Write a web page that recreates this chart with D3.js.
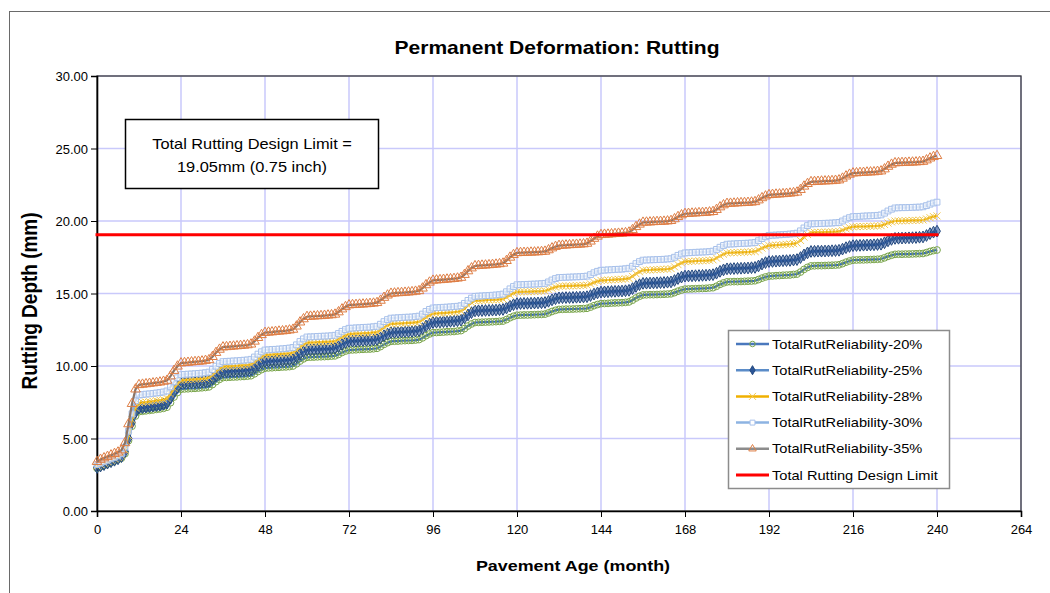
<!DOCTYPE html>
<html>
<head>
<meta charset="utf-8">
<script src="https://cdn.jsdelivr.net/npm/d3@7"></script>
<style>
  body { margin: 0; background: #fff; }
  svg { display: block; }
  text { font-family: "Liberation Sans", Arial, sans-serif; fill: #000; }
</style>
</head>
<body>
<svg id="chart" width="1050" height="593"></svg>
<script>
// ---- data: total rut depth (mm) by pavement age (month 0..240) ----
const months = d3.range(0, 241);

const rel20 = [
  2.95,3.05,3.15,3.25,3.35,3.45,3.55,3.65,3.95,4.85,5.85,6.55,
  6.85,6.88,6.91,6.94,6.97,7.01,7.04,7.08,7.16,7.47,7.86,8.17,
  8.40,8.42,8.43,8.45,8.46,8.48,8.50,8.52,8.56,8.72,8.92,9.08,
  9.20,9.21,9.23,9.24,9.25,9.27,9.28,9.30,9.33,9.46,9.62,9.75,
  9.85,9.87,9.88,9.90,9.91,9.93,9.94,9.96,10.00,10.15,10.34,10.49,
  10.60,10.61,10.62,10.63,10.64,10.65,10.66,10.68,10.70,10.80,10.93,11.03,
  11.10,11.11,11.12,11.14,11.15,11.16,11.17,11.19,11.22,11.34,11.49,11.61,
  11.70,11.71,11.72,11.74,11.75,11.76,11.77,11.79,11.82,11.94,12.09,12.21,
  12.30,12.31,12.33,12.34,12.36,12.37,12.38,12.41,12.44,12.58,12.76,12.90,
  13.00,13.01,13.02,13.03,13.04,13.05,13.06,13.08,13.10,13.20,13.33,13.43,
  13.50,13.51,13.52,13.52,13.53,13.54,13.55,13.56,13.58,13.66,13.76,13.84,
  13.90,13.91,13.92,13.92,13.93,13.94,13.95,13.96,13.98,14.06,14.16,14.24,
  14.30,14.31,14.32,14.34,14.35,14.36,14.37,14.39,14.42,14.54,14.69,14.81,
  14.90,14.91,14.92,14.92,14.93,14.94,14.95,14.96,14.98,15.06,15.16,15.24,
  15.30,15.31,15.32,15.33,15.34,15.35,15.36,15.38,15.40,15.50,15.63,15.73,
  15.80,15.81,15.82,15.82,15.83,15.84,15.85,15.86,15.88,15.96,16.06,16.14,
  16.20,16.21,16.23,16.24,16.26,16.27,16.28,16.31,16.34,16.48,16.66,16.80,
  16.90,16.91,16.92,16.92,16.93,16.94,16.95,16.96,16.98,17.06,17.16,17.24,
  17.30,17.31,17.32,17.32,17.33,17.34,17.35,17.36,17.38,17.46,17.56,17.64,
  17.70,17.71,17.71,17.72,17.72,17.73,17.74,17.75,17.76,17.82,17.90,17.96,
  18.00
];

const rel25 = [
  3.00,3.10,3.20,3.30,3.40,3.50,3.60,3.75,4.10,5.00,6.10,6.80,
  7.10,7.13,7.17,7.20,7.24,7.27,7.30,7.36,7.44,7.78,8.21,8.55,
  8.80,8.82,8.83,8.85,8.86,8.88,8.90,8.92,8.96,9.12,9.32,9.48,
  9.60,9.61,9.63,9.64,9.66,9.67,9.68,9.71,9.74,9.88,10.06,10.20,
  10.30,10.32,10.33,10.35,10.36,10.38,10.40,10.42,10.46,10.62,10.82,10.98,
  11.10,11.11,11.12,11.14,11.15,11.16,11.17,11.19,11.22,11.34,11.49,11.61,
  11.70,11.71,11.72,11.74,11.75,11.76,11.77,11.79,11.82,11.94,12.09,12.21,
  12.30,12.31,12.33,12.34,12.36,12.37,12.38,12.41,12.44,12.58,12.76,12.90,
  13.00,13.02,13.03,13.05,13.06,13.08,13.10,13.12,13.16,13.32,13.52,13.68,
  13.80,13.81,13.82,13.83,13.84,13.85,13.86,13.88,13.90,14.00,14.13,14.23,
  14.30,14.31,14.32,14.32,14.33,14.34,14.35,14.36,14.38,14.46,14.56,14.64,
  14.70,14.71,14.72,14.72,14.73,14.74,14.75,14.76,14.78,14.86,14.96,15.04,
  15.10,15.11,15.12,15.14,15.15,15.16,15.17,15.19,15.22,15.34,15.49,15.61,
  15.70,15.71,15.72,15.73,15.74,15.75,15.76,15.78,15.80,15.90,16.03,16.13,
  16.20,16.21,16.22,16.23,16.24,16.25,16.26,16.28,16.30,16.40,16.53,16.63,
  16.70,16.71,16.72,16.73,16.74,16.75,16.76,16.78,16.80,16.90,17.03,17.13,
  17.20,17.21,17.23,17.24,17.26,17.27,17.28,17.31,17.34,17.48,17.66,17.80,
  17.90,17.91,17.92,17.92,17.93,17.94,17.95,17.96,17.98,18.06,18.16,18.24,
  18.30,18.31,18.32,18.33,18.34,18.35,18.36,18.38,18.40,18.50,18.63,18.73,
  18.80,18.81,18.82,18.83,18.84,18.85,18.86,18.88,18.90,19.00,19.13,19.23,
  19.30
];

const rel28 = [
  3.10,3.20,3.30,3.40,3.50,3.60,3.70,3.85,4.20,5.20,6.30,7.10,
  7.45,7.48,7.51,7.54,7.57,7.61,7.64,7.68,7.76,8.07,8.46,8.77,
  9.00,9.02,9.04,9.06,9.08,9.10,9.11,9.14,9.19,9.38,9.62,9.81,
  9.95,9.97,9.98,10.00,10.01,10.03,10.05,10.07,10.11,10.27,10.47,10.63,
  10.75,10.77,10.78,10.80,10.82,10.84,10.85,10.88,10.92,11.09,11.30,11.47,
  11.60,11.61,11.62,11.64,11.65,11.66,11.67,11.69,11.72,11.84,11.99,12.11,
  12.20,12.21,12.23,12.24,12.26,12.27,12.28,12.31,12.34,12.48,12.66,12.80,
  12.90,12.91,12.93,12.94,12.96,12.97,12.98,13.01,13.04,13.18,13.36,13.50,
  13.60,13.62,13.64,13.65,13.67,13.69,13.71,13.74,13.78,13.96,14.19,14.37,
  14.50,14.51,14.52,14.54,14.55,14.56,14.57,14.59,14.62,14.74,14.89,15.01,
  15.10,15.11,15.12,15.12,15.13,15.14,15.15,15.16,15.18,15.26,15.36,15.44,
  15.50,15.51,15.52,15.52,15.53,15.54,15.55,15.56,15.58,15.66,15.76,15.84,
  15.90,15.91,15.93,15.94,15.96,15.97,15.98,16.01,16.04,16.18,16.36,16.50,
  16.60,16.61,16.62,16.64,16.65,16.66,16.67,16.69,16.72,16.84,16.99,17.11,
  17.20,17.21,17.22,17.24,17.25,17.26,17.27,17.29,17.32,17.44,17.59,17.71,
  17.80,17.81,17.82,17.83,17.84,17.85,17.86,17.88,17.90,18.00,18.13,18.23,
  18.30,18.32,18.34,18.35,18.37,18.39,18.41,18.44,18.48,18.66,18.89,19.07,
  19.20,19.21,19.22,19.22,19.23,19.24,19.25,19.26,19.28,19.36,19.46,19.54,
  19.60,19.61,19.62,19.62,19.63,19.64,19.65,19.66,19.68,19.76,19.86,19.94,
  20.00,20.01,20.01,20.02,20.03,20.04,20.04,20.05,20.07,20.14,20.23,20.30,
  20.35
];

const rel30 = [
  3.20,3.30,3.40,3.50,3.60,3.70,3.80,3.95,4.40,5.50,6.70,7.60,
  8.00,8.03,8.06,8.08,8.11,8.14,8.17,8.21,8.28,8.56,8.91,9.19,
  9.40,9.42,9.44,9.45,9.47,9.49,9.51,9.54,9.58,9.76,9.99,10.17,
  10.30,10.32,10.33,10.35,10.36,10.38,10.40,10.42,10.46,10.62,10.82,10.98,
  11.10,11.12,11.14,11.15,11.17,11.19,11.21,11.24,11.28,11.46,11.69,11.87,
  12.00,12.01,12.02,12.04,12.05,12.06,12.07,12.09,12.12,12.24,12.39,12.51,
  12.60,12.61,12.63,12.64,12.66,12.67,12.68,12.71,12.74,12.88,13.06,13.20,
  13.30,13.31,13.33,13.34,13.36,13.37,13.38,13.41,13.44,13.58,13.76,13.90,
  14.00,14.02,14.03,14.05,14.06,14.08,14.10,14.12,14.16,14.32,14.52,14.68,
  14.80,14.82,14.83,14.85,14.86,14.88,14.90,14.92,14.96,15.12,15.32,15.48,
  15.60,15.61,15.62,15.63,15.64,15.65,15.66,15.68,15.70,15.80,15.93,16.03,
  16.10,16.11,16.12,16.13,16.14,16.15,16.16,16.18,16.20,16.30,16.43,16.53,
  16.60,16.61,16.63,16.64,16.66,16.67,16.68,16.71,16.74,16.88,17.06,17.20,
  17.30,17.31,17.32,17.33,17.34,17.35,17.36,17.38,17.40,17.50,17.63,17.73,
  17.80,17.81,17.82,17.84,17.85,17.86,17.87,17.89,17.92,18.04,18.19,18.31,
  18.40,18.41,18.42,18.44,18.45,18.46,18.47,18.49,18.52,18.64,18.79,18.91,
  19.00,19.02,19.03,19.05,19.06,19.08,19.10,19.12,19.16,19.32,19.52,19.68,
  19.80,19.81,19.82,19.83,19.84,19.85,19.86,19.88,19.90,20.00,20.13,20.23,
  20.30,20.31,20.32,20.34,20.35,20.36,20.37,20.39,20.42,20.54,20.69,20.81,
  20.90,20.91,20.92,20.92,20.93,20.94,20.95,20.96,20.98,21.06,21.16,21.24,
  21.30
];

const rel35 = [
  3.40,3.55,3.65,3.75,3.85,3.95,4.05,4.20,4.70,6.00,7.40,8.40,
  8.70,8.73,8.76,8.79,8.82,8.85,8.88,8.93,9.00,9.30,9.68,9.98,
  10.20,10.22,10.24,10.27,10.29,10.31,10.33,10.37,10.42,10.64,10.92,11.14,
  11.30,11.32,11.34,11.36,11.38,11.40,11.42,11.45,11.50,11.70,11.95,12.15,
  12.30,12.32,12.34,12.37,12.39,12.41,12.43,12.47,12.52,12.74,13.02,13.24,
  13.40,13.42,13.43,13.45,13.46,13.48,13.50,13.52,13.56,13.72,13.92,14.08,
  14.20,14.22,14.23,14.25,14.26,14.28,14.30,14.32,14.36,14.52,14.72,14.88,
  15.00,15.02,15.04,15.05,15.07,15.09,15.11,15.14,15.18,15.36,15.59,15.77,
  15.90,15.92,15.94,15.96,15.98,16.00,16.02,16.05,16.10,16.30,16.55,16.75,
  16.90,16.92,16.94,16.95,16.97,16.99,17.01,17.04,17.08,17.26,17.49,17.67,
  17.80,17.81,17.82,17.83,17.84,17.85,17.86,17.88,17.90,18.00,18.13,18.23,
  18.30,18.32,18.33,18.35,18.36,18.38,18.39,18.41,18.45,18.60,18.79,18.94,
  19.05,19.07,19.08,19.10,19.12,19.14,19.15,19.18,19.22,19.39,19.60,19.77,
  19.90,19.91,19.92,19.94,19.95,19.96,19.97,19.99,20.02,20.14,20.29,20.41,
  20.50,20.51,20.53,20.54,20.56,20.57,20.58,20.61,20.64,20.78,20.96,21.10,
  21.20,21.21,21.22,21.24,21.25,21.26,21.27,21.29,21.32,21.44,21.59,21.71,
  21.80,21.82,21.84,21.85,21.87,21.89,21.91,21.94,21.98,22.16,22.39,22.57,
  22.70,22.71,22.72,22.74,22.75,22.76,22.77,22.79,22.82,22.94,23.09,23.21,
  23.30,23.31,23.33,23.34,23.36,23.37,23.38,23.41,23.44,23.58,23.76,23.90,
  24.00,24.01,24.02,24.03,24.04,24.05,24.06,24.08,24.10,24.20,24.33,24.43,
  24.50
];

const seriesNames = [
  "TotalRutReliability-20%",
  "TotalRutReliability-25%",
  "TotalRutReliability-28%",
  "TotalRutReliability-30%",
  "TotalRutReliability-35%"
];
const limitName = "Total Rutting Design Limit";
const designLimit = 19.05;        // mm (0.75 inch)
const limitMonths = [0, 240];     // extent of the design-limit line

const xTicks = [0, 24, 48, 72, 96, 120, 144, 168, 192, 216, 240, 264];
const yTicks = [0, 5, 10, 15, 20, 25, 30];

const titleText = "Permanent Deformation: Rutting";
const xTitle = "Pavement Age (month)";
const yTitle = "Rutting Depth (mm)";
const noteLines = ["Total Rutting Design Limit =", "19.05mm (0.75 inch)"];

// ---- appearance ----
const SX = 1.17;   // horizontal text stretch of the chart fonts
const styles = [
  { line: "#3b6cb3", mark: "circle",   mStroke: "#7aa54c", mFill: "none",    size: 36 },
  { line: "#4a7cc0", mark: "diamond",  mStroke: "#24497f", mFill: "#2c5597", size: 40 },
  { line: "#ebac00", mark: "x",        mStroke: "#f2c850", mFill: "none",    size: 0 },
  { line: "#8cb0e4", mark: "square",   mStroke: "#a7c0ea", mFill: "#ffffff", size: 34 },
  { line: "#8a7568", mark: "triangle", mStroke: "#de7e45", mFill: "none",    size: 40 }
];
const seriesValues = [rel20, rel25, rel28, rel30, rel35];

const svg = d3.select("#chart");
const W = 1050, H = 593;
const plot = { left: 97, right: 1021, top: 76, bottom: 511 };

const x = d3.scaleLinear().domain([0, 264]).range([plot.left, plot.right]);
const y = d3.scaleLinear().domain([0, 30]).range([plot.bottom, plot.top]);

// outer chart frame
svg.append("rect").attr("x", 9.5).attr("y", 11.5).attr("width", W + 20).attr("height", H + 20)
  .attr("fill", "#fff").attr("stroke", "#6a6a6a").attr("stroke-width", 1);

function stretchedText(g, px, py, str, size, weight, anchor, sx) {
  return g.append("text")
    .attr("transform", `translate(${px},${py}) scale(${sx || SX},1)`)
    .attr("font-size", size).attr("font-weight", weight || "normal")
    .attr("text-anchor", anchor || "start")
    .text(str);
}

// title
stretchedText(svg, 557, 54, titleText, 18, "bold", "middle");

// gridlines
const grid = svg.append("g");
grid.selectAll("line.gx").data(xTicks.slice(1)).join("line")
  .attr("x1", d => x(d)).attr("x2", d => x(d))
  .attr("y1", plot.top).attr("y2", plot.bottom)
  .attr("stroke", "#c9c9fb").attr("stroke-width", 1.5);
grid.selectAll("line.gy").data(yTicks.slice(1)).join("line")
  .attr("x1", plot.left).attr("x2", plot.right)
  .attr("y1", d => y(d)).attr("y2", d => y(d))
  .attr("stroke", "#c9c9fb").attr("stroke-width", 1.5);

// plot frame
svg.append("rect").attr("x", plot.left).attr("y", plot.top)
  .attr("width", plot.right - plot.left).attr("height", plot.bottom - plot.top)
  .attr("fill", "none").attr("stroke", "#3a3a3a").attr("stroke-width", 1.3);

// axes
const TICK_SX = 1.0;
const yAxis = d3.axisLeft(y).tickValues(yTicks).tickSize(6).tickFormat(d3.format(".2f"));
const xAxis = d3.axisBottom(x).tickValues(xTicks).tickSize(6).tickFormat(d3.format("d"));
const gy = svg.append("g").attr("transform", `translate(${plot.left},0)`).call(yAxis);
const gx = svg.append("g").attr("transform", `translate(0,${plot.bottom})`).call(xAxis);
[gx, gy].forEach(g => {
  g.select(".domain").attr("stroke", "#000").attr("stroke-width", 1.6);
  g.selectAll(".tick line").attr("stroke", "#000").attr("stroke-width", 1);
  g.selectAll(".tick text").attr("font-size", 13).attr("fill", "#000")
    .attr("font-family", '"Liberation Sans", Arial, sans-serif');
});
gy.selectAll(".tick text")
  .attr("transform", `scale(${TICK_SX},1)`)
  .attr("x", -9 / TICK_SX).attr("dy", "0.35em");
gx.selectAll(".tick text").attr("y", 14).attr("dy", "0.71em")
  .attr("transform", `scale(${TICK_SX},1)`);

// axis titles
stretchedText(svg, 573, 571, xTitle, 15.3, "bold", "middle");
svg.append("text")
  .attr("transform", `translate(37,301) rotate(-90) scale(1,${SX})`)
  .attr("font-size", 19).attr("font-weight", "bold").attr("text-anchor", "middle")
  .text(yTitle);

// marker shapes
function markerPath(kind, size) {
  switch (kind) {
    case "circle":   return d3.symbol(d3.symbolCircle, size)();
    case "diamond":  return d3.symbol(d3.symbolDiamond, size)();
    case "square":   return d3.symbol(d3.symbolSquare, size)();
    case "triangle": return d3.symbol(d3.symbolTriangle, size)();
    case "x":        return "M-3.5,-3.5L3.5,3.5M-3.5,3.5L3.5,-3.5";
  }
}

// series lines + markers
const lineGen = d3.line().x(d => x(d[0])).y(d => y(d[1]));
const seriesG = svg.append("g");
seriesValues.forEach((vals, i) => {
  const st = styles[i];
  const pts = months.map((m, j) => [m, vals[j]]);
  const g = seriesG.append("g");
  g.append("path").datum(pts).attr("d", lineGen)
    .attr("fill", "none").attr("stroke", st.line).attr("stroke-width", 2.2);
  g.selectAll("path.m").data(pts).join("path").attr("class", "m")
    .attr("transform", d => `translate(${x(d[0])},${y(d[1])})`)
    .attr("d", markerPath(st.mark, st.size))
    .attr("fill", st.mFill).attr("stroke", st.mStroke).attr("stroke-width", 1)
    .attr("fill-opacity", st.mFill === "none" ? 0 : 0.55);
});

// design limit line
svg.append("line")
  .attr("x1", x(limitMonths[0])).attr("x2", x(limitMonths[1]))
  .attr("y1", y(designLimit)).attr("y2", y(designLimit))
  .attr("stroke", "#ff0000").attr("stroke-width", 3).attr("stroke-linecap", "square");

// note box
const note = svg.append("g");
note.append("rect").attr("x", 125.5).attr("y", 119.5).attr("width", 253).attr("height", 69)
  .attr("fill", "#fff").attr("stroke", "#000").attr("stroke-width", 1.5);
stretchedText(note, 252, 149, noteLines[0], 14, "normal", "middle");
stretchedText(note, 252, 172, noteLines[1], 14, "normal", "middle");

// legend
const legend = svg.append("g");
legend.append("rect").attr("x", 728.5).attr("y", 330.5).attr("width", 221).attr("height", 158)
  .attr("fill", "#fff").attr("stroke", "#8c8c8c").attr("stroke-width", 1.5);
const legendColors = ["#4a78bd", "#5b8cc8", "#f0b000", "#8db3e2", "#8c8c8c"];
const rowY = d3.range(6).map(i => 344 + i * 26.2);
seriesNames.forEach((name, i) => {
  const st = styles[i];
  const yy = rowY[i];
  legend.append("line").attr("x1", 736).attr("x2", 769).attr("y1", yy).attr("y2", yy)
    .attr("stroke", legendColors[i]).attr("stroke-width", 2.5);
  legend.append("path").attr("transform", `translate(752.5,${yy})`)
    .attr("d", markerPath(st.mark, 24))
    .attr("fill", st.mFill === "none" ? "#fff" : st.mFill).attr("fill-opacity", st.mFill === "none" ? 0 : 1)
    .attr("stroke", st.mStroke).attr("stroke-width", 1);
  stretchedText(legend, 772, yy + 4.5, name, 12.5, "normal", "start");
});
legend.append("line").attr("x1", 736).attr("x2", 769).attr("y1", rowY[5]).attr("y2", rowY[5])
  .attr("stroke", "#ff0000").attr("stroke-width", 3);
stretchedText(legend, 772, rowY[5] + 4.5, limitName, 12.5, "normal", "start");
</script>
</body>
</html>
